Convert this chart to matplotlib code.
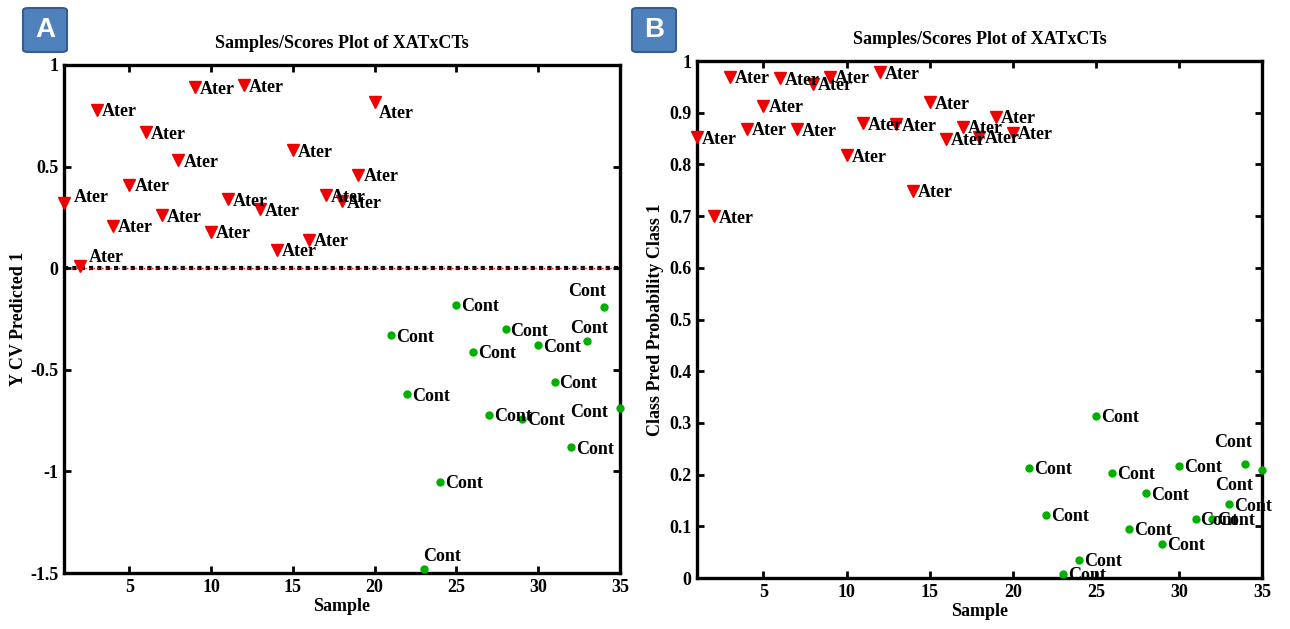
import numpy as np
import matplotlib.pyplot as plt
from matplotlib.patches import FancyBboxPatch

plt.rcParams['font.family'] = ['Liberation Serif', 'DejaVu Serif']
plt.rcParams['font.weight'] = 'bold'

# samples 1-20 are Ater, 21-35 are Cont
ater_x = np.arange(1, 21)
cont_x = np.arange(21, 36)

# panel A: Y CV Predicted 1
ater_a = [0.32, 0.01, 0.78, 0.21, 0.41, 0.67, 0.26, 0.53, 0.89, 0.18,
          0.34, 0.90, 0.29, 0.09, 0.58, 0.14, 0.36, 0.33, 0.46, 0.82]
cont_a = [-0.33, -0.62, -1.48, -1.05, -0.18, -0.41, -0.72, -0.30, -0.74, -0.38,
          -0.56, -0.88, -0.36, -0.19, -0.69]

# panel B: class pred probability class 1
ater_b = [0.853, 0.700, 0.970, 0.869, 0.913, 0.967, 0.868, 0.956, 0.970, 0.818,
          0.880, 0.978, 0.878, 0.749, 0.920, 0.850, 0.873, 0.854, 0.892, 0.861]
cont_b = [0.213, 0.122, 0.008, 0.035, 0.314, 0.204, 0.095, 0.164, 0.066, 0.217,
          0.115, 0.115, 0.143, 0.220, 0.209]

title = 'Samples/Scores Plot of XATxCTs'
red = '#f00000'
green = '#00b000'

# label offsets in pixels (default right of marker)
off_a = {1: (10, 6, 'left'), 2: (8, 9, 'left'), 20: (4, -12, 'left'),
         23: (-1, 12, 'left'), 33: (2, 13, 'center'), 34: (-17, 15, 'center'),
         35: (-12, -4, 'right')}
off_b = {34: (-12, 22, 'center'), 35: (-28, -16, 'center'), 23: (6, -2, 'left')}


def style(ax):
    for s in ax.spines.values():
        s.set_linewidth(2.4)
    ax.tick_params(direction='in', length=5, width=2, top=True, right=True,
                   labelsize=13, pad=4)
    for t in ax.get_xticklabels() + ax.get_yticklabels():
        t.set_fontweight('bold')


def labels(ax, xs, ys, text, offs):
    for x, y in zip(xs, ys):
        dx, dy, ha = offs.get(x, (5, -2, 'left'))
        ax.annotate(text, (x, y), xytext=(dx, dy), textcoords='offset pixels',
                    ha=ha, va='center', fontsize=13, fontweight='bold',
                    annotation_clip=False)


fig = plt.figure(figsize=(12.9, 6.29), dpi=100)

ax1 = fig.add_axes([0.0496, 0.089, 0.431, 0.8077])
ax1.axhline(0, color='black', lw=3, ls=(0, (1, 1)), zorder=1)
ax1.axhline(0, color=red, lw=1, ls=(0, (1, 2)), zorder=1)
ax1.plot(ater_x, ater_a, 'v', color=red, ms=8, zorder=3, clip_on=False)
ax1.plot(cont_x, cont_a, 'o', color=green, ms=5, zorder=3, clip_on=False)
labels(ax1, ater_x, ater_a, 'Ater', off_a)
labels(ax1, cont_x, cont_a, 'Cont', off_a)
ax1.set_xlim(1, 35)
ax1.set_ylim(-1.5, 1)
ax1.set_xticks([5, 10, 15, 20, 25, 30, 35])
ax1.set_yticks([-1.5, -1, -0.5, 0, 0.5, 1])
ax1.set_yticklabels(['-1.5', '-1', '-0.5', '0', '0.5', '1'])
ax1.set_title(title, fontsize=13, fontweight='bold', pad=12)
ax1.set_xlabel('Sample', fontsize=13, fontweight='bold', labelpad=2)
ax1.set_ylabel('Y CV Predicted 1', fontsize=13, fontweight='bold', labelpad=2)
style(ax1)

ax2 = fig.add_axes([0.5403, 0.081, 0.438, 0.822])
ax2.plot(ater_x, ater_b, 'v', color=red, ms=8, zorder=3, clip_on=False)
ax2.plot(cont_x, cont_b, 'o', color=green, ms=5, zorder=3, clip_on=False)
labels(ax2, ater_x, ater_b, 'Ater', off_b)
labels(ax2, cont_x, cont_b, 'Cont', off_b)
ax2.set_xlim(1, 35)
ax2.set_ylim(0, 1)
ax2.set_xticks([5, 10, 15, 20, 25, 30, 35])
ax2.set_yticks(np.round(np.arange(0, 1.01, 0.1), 1))
ax2.set_yticklabels(['0'] + ['%.1f' % v for v in np.arange(0.1, 0.95, 0.1)] + ['1'])
ax2.set_title(title, fontsize=13, fontweight='bold', pad=12)
ax2.set_xlabel('Sample', fontsize=13, fontweight='bold', labelpad=2)
ax2.set_ylabel('Class Pred Probability Class 1', fontsize=13, fontweight='bold', labelpad=4)
style(ax2)

# panel letters
for x0, letter in [(23, 'A'), (632, 'B')]:
    box = FancyBboxPatch((x0 / 1290, 1 - 52 / 629), 44 / 1290, 44 / 629,
                         boxstyle='round,pad=0,rounding_size=0.004',
                         transform=fig.transFigure, facecolor='#4f81bd',
                         edgecolor='#385d8a', lw=1.5)
    fig.patches.append(box)
    fig.text((x0 + 22) / 1290, 1 - 30 / 629, letter, color='white', fontsize=20,
             fontweight='bold', ha='center', va='center',
             family=['Liberation Sans', 'DejaVu Sans'])

fig.savefig('out.png', dpi=100)
